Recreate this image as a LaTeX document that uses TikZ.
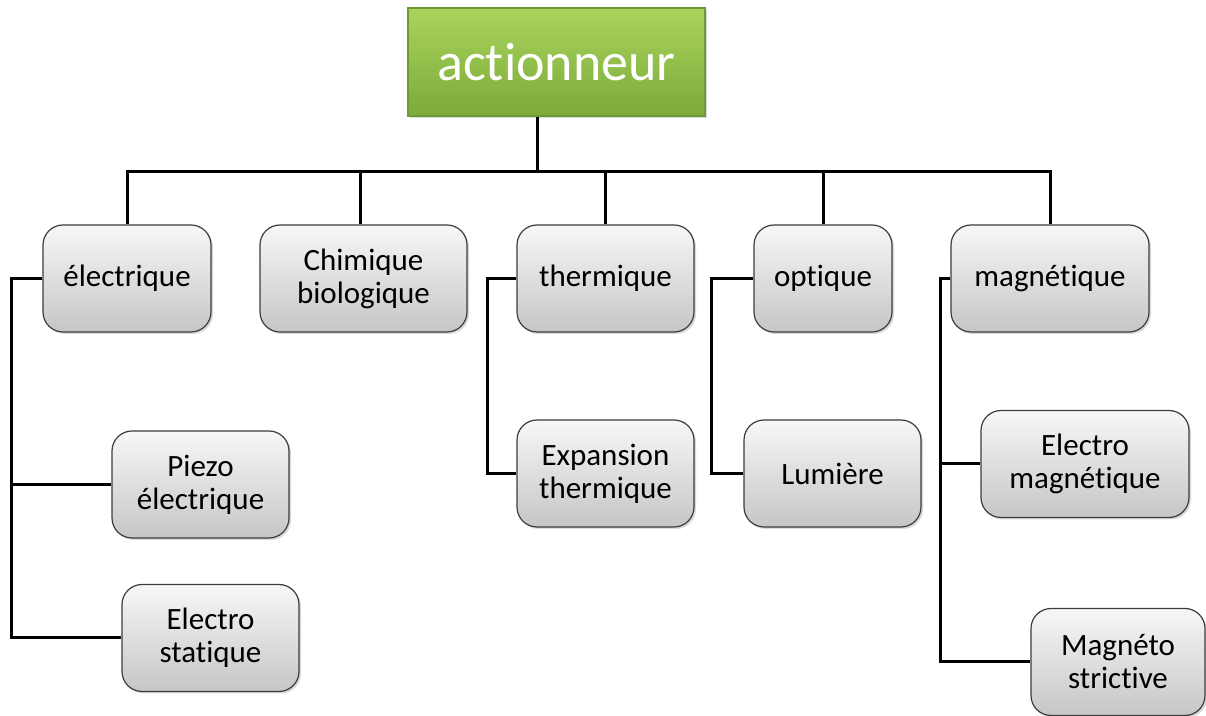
\documentclass[tikz,border=0pt]{standalone}
\usepackage{fontspec}
\setmainfont{Carlito}[RawFeature={-liga;-clig;-dlig;-calt}]
\usetikzlibrary{shadows}

\definecolor{grtop}{HTML}{A9D35C}
\definecolor{grbot}{HTML}{7CAB3A}
\definecolor{grline}{HTML}{6E9A35}
\definecolor{bxtop}{HTML}{F7F7F7}
\definecolor{bxbot}{HTML}{C6C6C6}
\definecolor{bxline}{HTML}{3C3C3C}

\begin{document}
\begin{tikzpicture}
[x=0.5pt,y=-0.5pt,
rootbox/.style={
draw=grline, line width=0.6pt,
top color=grtop, bottom color=grbot,
drop shadow={opacity=0.3,shadow xshift=1pt,shadow yshift=-1pt},
text=white, font=\fontsize{27}{30}\selectfont,
minimum width=148.5pt, minimum height=54pt, inner sep=0pt},
catbox/.style={
draw=bxline, line width=0.6pt, rounded corners=10pt,
top color=bxtop, bottom color=bxbot,
drop shadow={opacity=0.3,shadow xshift=1pt,shadow yshift=-1pt},
align=center, font=\fontsize{15.5}{16.5}\selectfont,
minimum height=53.5pt, inner sep=0pt},
link/.style={line width=1.5pt, black}]
  \useasboundingbox (0,0) rectangle (1206,716);
  % root
  \node [rootbox] (act) at (556.5,62) {actionneur};
  % first level
  \node [catbox, minimum width=84pt] (elec) at (127,278.5) {électrique};
  \node [catbox, minimum width=103.5pt] (chim) at (363.5,278.5) {Chimique\\biologique};
  \node [catbox, minimum width=88.5pt] (therm) at (605.5,278.5) {thermique};
  \node [catbox, minimum width=69pt] (opt) at (823,278.5) {optique};
  \node [catbox, minimum width=99pt] (magn) at (1050,278.5) {magnétique};
  % second level
  \node [catbox, minimum width=88.5pt] (piezo) at (200.5,484.5) {Piezo\\électrique};
  \node [catbox, minimum width=88.5pt] (stat) at (210.5,638) {Electro\\statique};
  \node [catbox, minimum width=88.5pt] (expan) at (605.5,473.5) {Expansion\\thermique};
  \node [catbox, minimum width=88.5pt] (lum) at (832.5,473.5) {Lumière};
  \node [catbox, minimum width=104pt] (elmag) at (1085,464) {Electro\\magnétique};
  \node [catbox, minimum width=87pt] (mgstr) at (1118,662) {Magnéto\\strictive};
  % bus
  \coordinate (bus) at (537,172);
  \draw [link] (act.south -| bus) -- (bus);
  \draw [link] (elec.north) |- (bus);
  \draw [link] (chim.north -| 360,0) |- (bus);
  \draw [link] (therm.north) |- (bus);
  \draw [link] (opt.north) |- (bus);
  \draw [link] (magn.north) |- (bus);
  % brackets
  \draw [link] (elec.west) -- ++(-31,0) |- (piezo.west);
  \draw [link] (elec.west) -- ++(-31,0) |- (stat.west);
  \draw [link] (therm.west) -- ++(-29,0) |- (expan.west);
  \draw [link] (opt.west) -- ++(-42,0) |- (lum.west);
  \draw [link] (magn.west) -- ++(-10,0) |- (elmag.west);
  \draw [link] (magn.west) -- ++(-10,0) |- (mgstr.west);
\end{tikzpicture}
\end{document}
